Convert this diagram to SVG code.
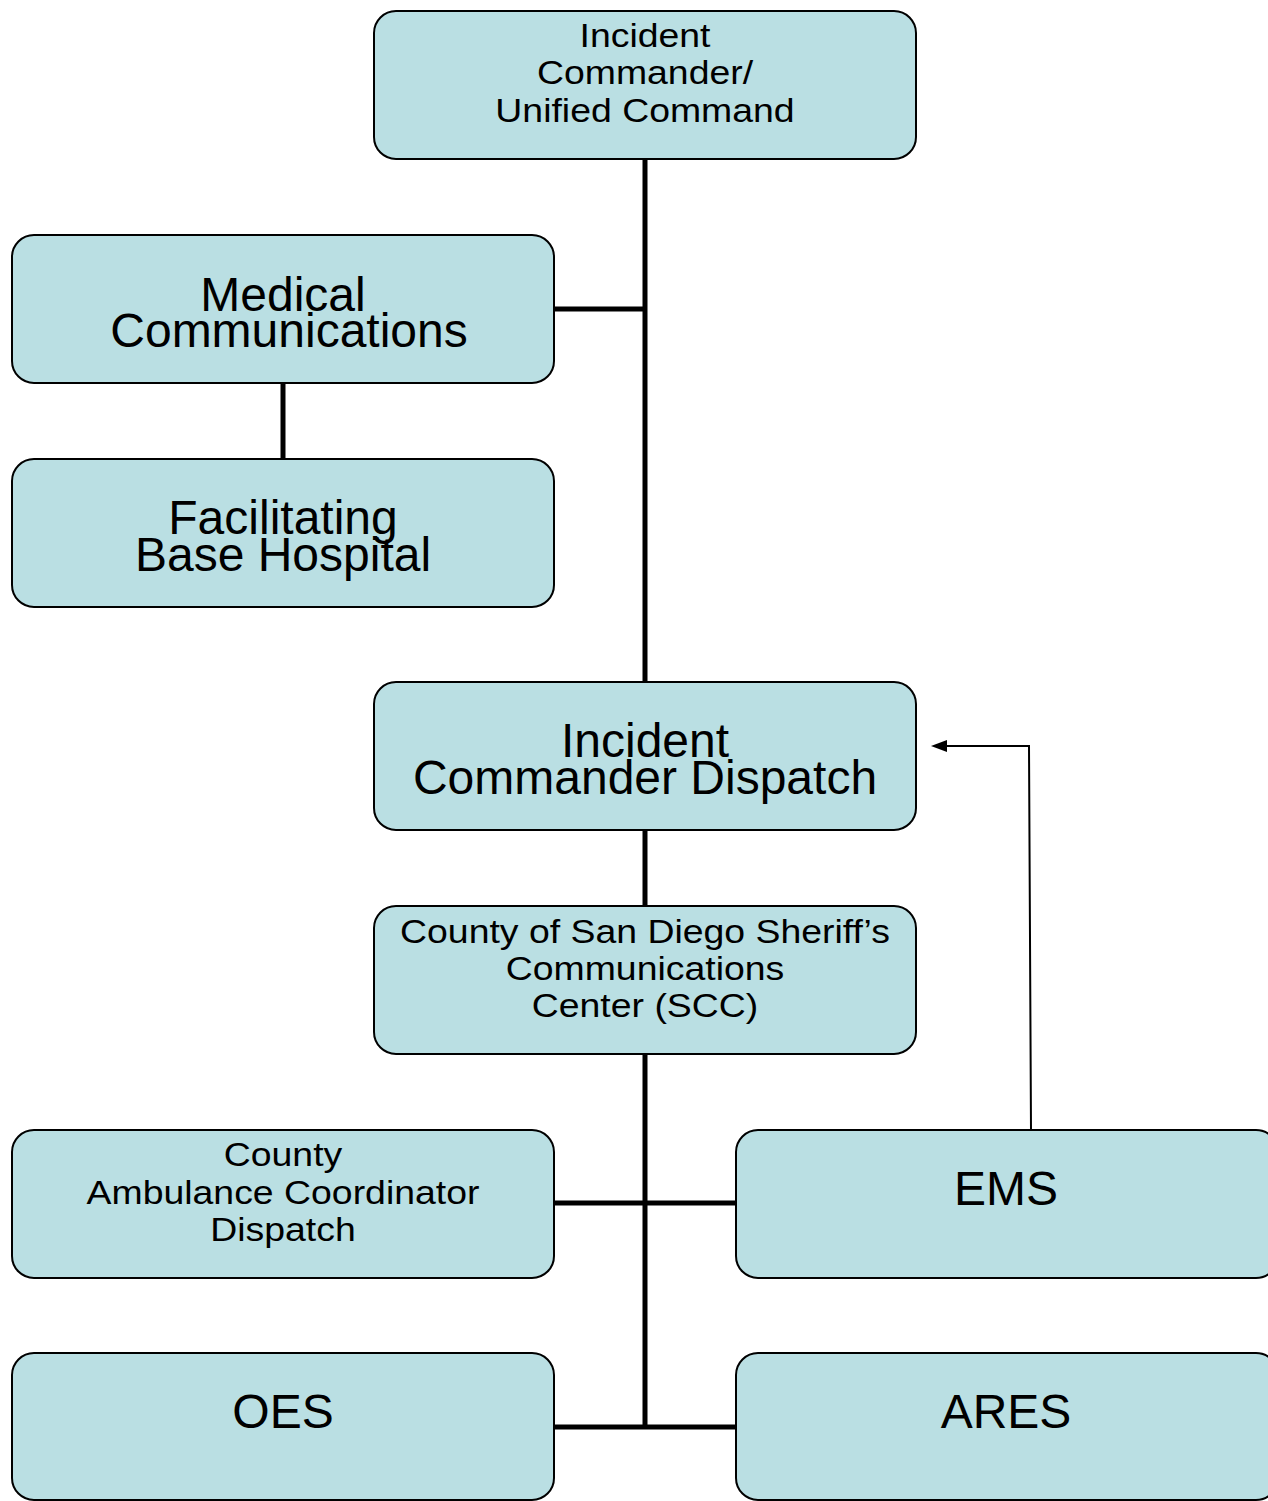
<svg xmlns="http://www.w3.org/2000/svg" width="1268" height="1501" viewBox="0 0 1268 1501">
  <style>
    .box { fill: #badfe3; stroke: #000; stroke-width: 2; }
    .lbl { font-family: "Liberation Sans", Arial, sans-serif; fill: #000; text-anchor: middle; }
    .s { font-size: 34px; }
    .l { font-size: 48px; }
    .link { stroke: #000; stroke-width: 5; fill: none; }
    .thin { stroke: #000; stroke-width: 2; fill: none; }
  </style>
  <rect width="1268" height="1501" fill="#fff"/>

  <!-- connectors -->
  <g id="connectors">
    <line class="link" x1="645" y1="159" x2="645" y2="683"/>
    <line class="link" x1="554" y1="309" x2="647" y2="309"/>
    <line class="link" x1="283" y1="383" x2="283" y2="459"/>
    <line class="link" x1="645" y1="830" x2="645" y2="906"/>
    <line class="link" x1="645" y1="1054" x2="645" y2="1429"/>
    <line class="link" x1="554" y1="1203" x2="736" y2="1203"/>
    <line class="link" x1="554" y1="1427" x2="736" y2="1427"/>
    <polyline class="thin" points="1031,1131 1029,746 944,746"/>
    <polygon points="931,746 947,740 947,752" fill="#000"/>
  </g>

  <g id="incident-commander">
    <rect class="box" x="374" y="11" width="542" height="148" rx="22"/>
    <g transform="translate(645 0) scale(1.1 1)">
      <text class="lbl s" x="0" y="47">Incident</text>
      <text class="lbl s" x="0" y="84">Commander/</text>
      <text class="lbl s" x="0" y="122">Unified Command</text>
    </g>
  </g>

  <g id="medical-communications">
    <rect class="box" x="12" y="235" width="542" height="148" rx="22"/>
    <text class="lbl l" x="283" y="311">Medical</text>
    <text class="lbl l" x="289" y="347">Communications</text>
  </g>

  <g id="facilitating-base-hospital">
    <rect class="box" x="12" y="459" width="542" height="148" rx="22"/>
    <text class="lbl l" x="283" y="534">Facilitating</text>
    <text class="lbl l" x="283" y="571">Base Hospital</text>
  </g>

  <g id="incident-commander-dispatch">
    <rect class="box" x="374" y="682" width="542" height="148" rx="22"/>
    <text class="lbl l" x="645" y="757">Incident</text>
    <text class="lbl l" x="645" y="794">Commander Dispatch</text>
  </g>

  <g id="sheriff-communications-center">
    <rect class="box" x="374" y="906" width="542" height="148" rx="22"/>
    <g transform="translate(645 0) scale(1.1 1)">
      <text class="lbl s" x="0" y="943">County of San Diego Sheriff’s</text>
      <text class="lbl s" x="0" y="980">Communications</text>
      <text class="lbl s" x="0" y="1017">Center (SCC)</text>
    </g>
  </g>

  <g id="county-ambulance-coordinator">
    <rect class="box" x="12" y="1130" width="542" height="148" rx="22"/>
    <g transform="translate(283 0) scale(1.1 1)">
      <text class="lbl s" x="0" y="1166">County</text>
      <text class="lbl s" x="0" y="1204">Ambulance Coordinator</text>
      <text class="lbl s" x="0" y="1241">Dispatch</text>
    </g>
  </g>

  <g id="ems">
    <rect class="box" x="736" y="1130" width="542" height="148" rx="22"/>
    <text class="lbl l" x="1006" y="1205">EMS</text>
  </g>

  <g id="oes">
    <rect class="box" x="12" y="1353" width="542" height="147" rx="22"/>
    <text class="lbl l" x="283" y="1428">OES</text>
  </g>

  <g id="ares">
    <rect class="box" x="736" y="1353" width="542" height="147" rx="22"/>
    <text class="lbl l" x="1006" y="1428">ARES</text>
  </g>
</svg>
